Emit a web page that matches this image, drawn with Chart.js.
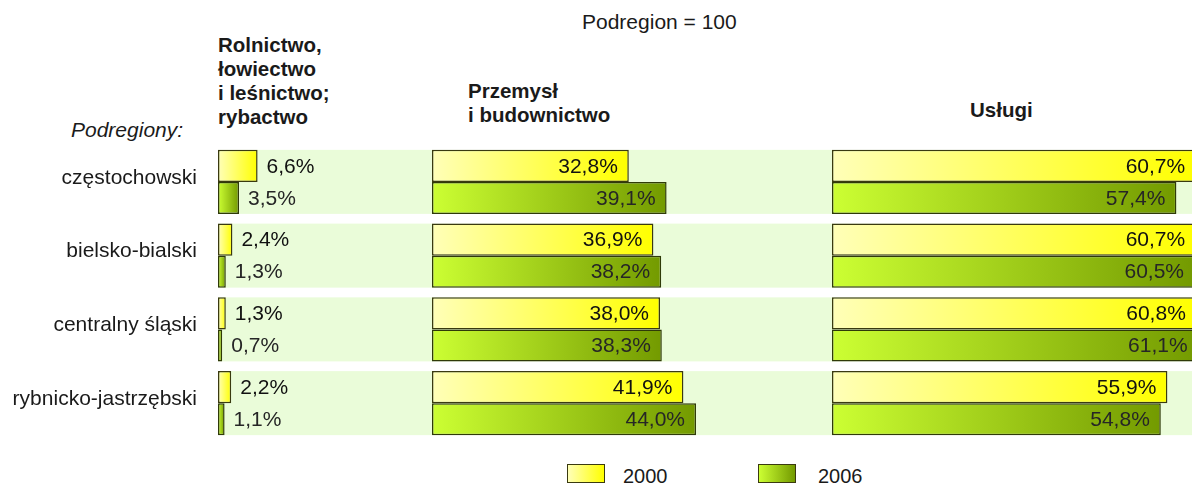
<!DOCTYPE html>
<html>
<head>
    <meta charset="utf-8">
    <title>Podregion = 100</title>
    <script src="https://cdn.jsdelivr.net/npm/chart.js"></script>
    <style>
        body {
            margin: 0;
            background: #fff;
            font-family: "Liberation Sans", Arial, sans-serif;
            color: #1a1a1a;
        }
        #wrap {
            position: relative;
            width: 1192px;
            height: 486px;
            overflow: hidden;
        }
        .txt {
            position: absolute;
            font-size: 21px;
            line-height: 24px;
            white-space: nowrap;
        }
        .head { font-weight: bold; font-size: 20.5px; }
        .leg { font-size: 20px; }
        .box {
            position: absolute;
            width: 36px;
            height: 17px;
            border: 1px solid #3a3a10;
        }
        canvas { position: absolute; }
    </style>
</head>
<body>
<div id="wrap">
    <div class="txt" style="left:582px; top:10px;">Podregion = 100</div>
    <div class="txt head" style="left:218px; top:33px;">Rolnictwo,<br>łowiectwo<br>i leśnictwo;<br>rybactwo</div>
    <div class="txt head" style="left:468px; top:79px;">Przemysł<br>i budownictwo</div>
    <div class="txt head" style="left:970px; top:98px;">Usługi</div>
    <div class="txt" style="left:71px; top:118px; font-style:italic;">Podregiony:</div>

    <canvas id="chartAgri" width="432" height="295" style="left:0; top:145px;"></canvas>
    <canvas id="chartInd" width="400" height="295" style="left:432px; top:145px;"></canvas>
    <canvas id="chartServ" width="360" height="295" style="left:832px; top:145px;"></canvas>

    <div class="box" style="left:567px; top:464px; background:linear-gradient(to right,#ffffb8,#ffff00);"></div>
    <div class="txt leg" style="left:623px; top:464px;">2000</div>
    <div class="box" style="left:758px; top:464px; background:linear-gradient(to right,#ccff33,#739a00);"></div>
    <div class="txt leg" style="left:818px; top:464px;">2006</div>
</div>

<script>
    const regions = ['częstochowski', 'bielsko-bialski', 'centralny śląski', 'rybnicko-jastrzębski'];
    const years = ['2000', '2006'];

    const agri2000 = [6.6, 2.4, 1.3, 2.2];
    const agri2006 = [3.5, 1.3, 0.7, 1.1];
    const ind2000 = [32.8, 36.9, 38.0, 41.9];
    const ind2006 = [39.1, 38.2, 38.3, 44.0];
    const serv2000 = [60.7, 60.7, 60.8, 55.9];
    const serv2006 = [57.4, 60.5, 61.1, 54.8];

    const CAT_PCT = 0.868;
    const yellow = ['#ffffb8', '#ffff00'];
    const green = ['#ccff33', '#739a00'];

    Chart.defaults.font.family = '"Liberation Sans", Arial, sans-serif';

    function barFill(stops) {
        return function (c) {
            const chart = c.chart;
            const x = chart.scales.x;
            if (!x || !chart.chartArea || typeof c.raw !== 'number') return stops[1];
            const x0 = x.getPixelForValue(0);
            const x1 = x.getPixelForValue(c.raw);
            if (x1 - x0 < 1) return stops[1];
            const g = chart.ctx.createLinearGradient(x0, 0, x1, 0);
            g.addColorStop(0, stops[0]);
            g.addColorStop(1, stops[1]);
            return g;
        };
    }

    // light green band behind each region
    const bands = {
        id: 'bands',
        beforeDatasetsDraw(chart) {
            const {ctx, chartArea, scales: {y}} = chart;
            const h = (y.getPixelForValue(1) - y.getPixelForValue(0)) * CAT_PCT;
            ctx.save();
            ctx.fillStyle = '#eafcd9';
            regions.forEach((r, i) => {
                const c = y.getPixelForValue(i);
                ctx.fillRect(chartArea.left, c - h / 2, chartArea.right - chartArea.left, h);
            });
            ctx.restore();
        }
    };

    const valueLabels = {
        id: 'valueLabels',
        afterDatasetsDraw(chart, args, opts) {
            const ctx = chart.ctx;
            ctx.save();
            ctx.font = '21px "Liberation Sans", Arial, sans-serif';
            ctx.textBaseline = 'middle';
            chart.data.datasets.forEach((ds, di) => {
                ctx.fillStyle = di === 0 ? '#111' : '#262626';
                chart.getDatasetMeta(di).data.forEach((bar, i) => {
                    const txt = ds.data[i].toFixed(1).replace('.', ',') + '%';
                    if (opts.outside) {
                        ctx.textAlign = 'left';
                        ctx.fillText(txt, bar.x + 9, bar.y + 1);
                    } else {
                        ctx.textAlign = 'right';
                        ctx.fillText(txt, bar.x - 11, bar.y + 1);
                    }
                });
            });
            ctx.restore();
        }
    };

    function makeChart(id, d2000, d2006, xMax, showRegions, outside) {
        const yScale = {
            display: showRegions,
            grid: {display: false},
            border: {display: false},
            ticks: {color: '#1a1a1a', font: {size: 21}, padding: 13, labelOffset: -4}
        };
        if (showRegions) {
            yScale.afterFit = function (scale) {
                scale.width = 218;
                scale.paddingTop = 0;
                scale.paddingBottom = 0;
            };
        }
        return new Chart(document.getElementById(id), {
            type: 'bar',
            data: {
                labels: regions,
                datasets: [
                    {label: years[0], data: d2000, backgroundColor: barFill(yellow), borderColor: '#3a3a10'},
                    {label: years[1], data: d2006, backgroundColor: barFill(green), borderColor: '#2f3a08'}
                ]
            },
            options: {
                indexAxis: 'y',
                responsive: false,
                animation: false,
                devicePixelRatio: 1,
                layout: {padding: 0},
                datasets: {
                    bar: {
                        borderWidth: 1.5,
                        borderSkipped: false,
                        barPercentage: 1,
                        categoryPercentage: CAT_PCT
                    }
                },
                plugins: {
                    legend: {display: false},
                    tooltip: {enabled: false},
                    valueLabels: {outside: outside}
                },
                scales: {
                    x: {display: false, min: 0, max: xMax},
                    y: yScale
                }
            },
            plugins: [bands, valueLabels]
        });
    }

    makeChart('chartAgri', agri2000, agri2006, 214 / 6, true, true);
    makeChart('chartInd', ind2000, ind2006, 400 / 6, false, false);
    makeChart('chartServ', serv2000, serv2006, 360 / 6, false, false);
</script>
</body>
</html>
